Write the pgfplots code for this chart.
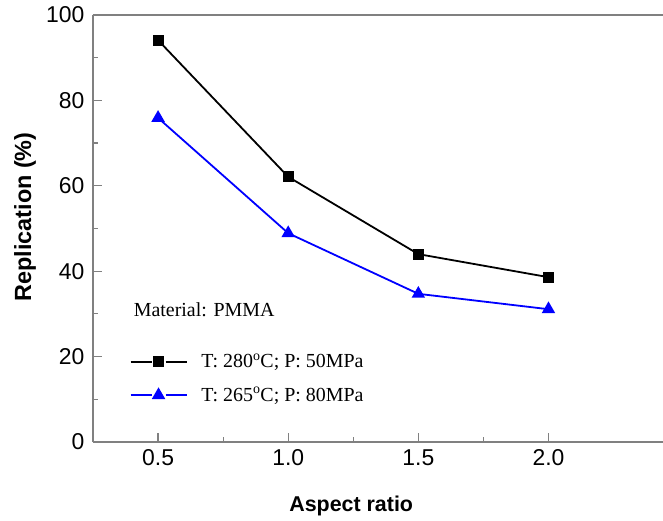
\documentclass[border=0pt]{standalone}
\usepackage{fontspec}
\setmainfont{Liberation Serif}
\newfontfamily\arial{Liberation Sans}
\usepackage{pgfplots}
\pgfplotsset{compat=1.18}

\definecolor{axgray}{RGB}{128,128,128}

\begin{document}
\begin{tikzpicture}
\begin{axis}[
  scale only axis,
  width=570bp, height=427bp,
  xmin=0.25, xmax=2.44,
  ymin=0, ymax=100,
  axis lines=left,
  axis line style={axgray, line width=1.6bp, -},
  xtick={0.5,1.0,1.5,2.0},
  ytick={0,20,40,60,80,100},
  minor x tick num=1,
  minor y tick num=1,
  tick align=inside,
  major tick length=9bp,
  minor tick length=5bp,
  every tick/.style={axgray, line width=1.2bp},
  x tick label style={/pgf/number format/fixed, /pgf/number format/fixed zerofill,
    /pgf/number format/precision=1, yshift=-4bp},
  /pgf/number format/assume math mode=true,
  ticklabel style={font=\arial\fontsize{23}{27}\selectfont},
  y tick label style={xshift=-5bp},
  xlabel={Aspect ratio},
  ylabel={Replication (\%)},
  every axis x label/.style={at={(axis description cs:0.453,-0.15)}, anchor=center,
    font=\arial\bfseries\fontsize{21.5}{26}\selectfont},
  every axis y label/.style={at={(axis description cs:-0.119,0.527)}, rotate=90, anchor=center,
    font=\arial\bfseries\fontsize{23.5}{28}\selectfont},
  legend cell align=left,
  legend style={draw=none, fill=none, inner sep=0pt,
    font=\fontsize{20}{24}\selectfont,
    at={(axis cs:0.39,14.9)}, anchor=west,
    row sep=14bp, column sep=12bp},
  legend image code/.code={
    \draw[mark=none, line width=1.8bp] (0bp,0bp) -- (21bp,0bp);
    \draw[mark=none, line width=1.8bp] (35bp,0bp) -- (56bp,0bp);
    \draw[only marks] plot coordinates {(28bp,0bp)};
  },
  clip=false,
]
\addplot[black, line width=1.8bp, mark=square*, mark size=4.6bp,
  mark options={solid}] coordinates {
  (0.5,94.1) (1.0,62.1) (1.5,44.0) (2.0,38.6)
};
\addlegendentry{T: 280\textsuperscript{o}C; P: 50MPa}
\addplot[blue, line width=1.8bp, mark=triangle*, mark size=6bp,
  mark options={solid}] coordinates {
  (0.5,75.9) (1.0,48.9) (1.5,34.7) (2.0,31.1)
};
\addlegendentry{T: 265\textsuperscript{o}C; P: 80MPa}

\node[font=\fontsize{20}{24}\selectfont, anchor=center] at (axis cs:0.677,30.9) {Material: PMMA};

% top frame line, no right spine
\draw[axgray, line width=1.6bp] (rel axis cs:0,1) -- (rel axis cs:1,1);

\coordinate (bl) at (rel axis cs:0,0);
\coordinate (tr) at (rel axis cs:1,1);
\end{axis}
\pgfresetboundingbox
\path ([shift={(-93bp,-79bp)}]bl) rectangle ([shift={(0bp,15bp)}]tr);
\end{tikzpicture}
\end{document}
